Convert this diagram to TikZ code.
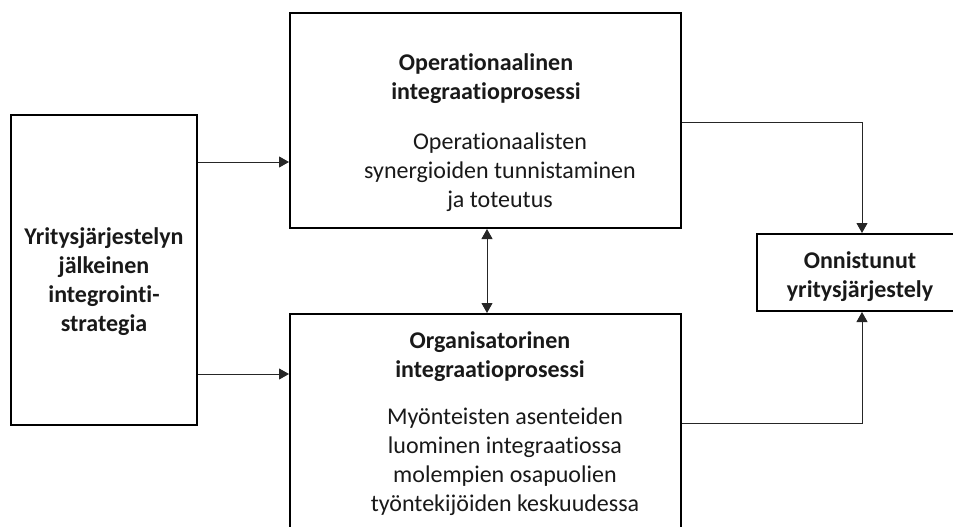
\documentclass[tikz,border=0pt]{standalone}
\usepackage{fontspec}
\setmainfont{Carlito}[Ligatures=NoCommon]
\usetikzlibrary{arrows.meta,positioning}

\tikzset{
  box/.style={draw=black, line width=2pt, rectangle, inner sep=0pt, fill=white},
  txt/.style={align=center, font=\fontsize{24}{29}\selectfont, text=black!90, inner sep=0pt},
  ttl/.style={txt, font=\fontsize{24}{29}\selectfont\bfseries},
  arr/.style={draw=black!85, line width=1pt, -{Triangle[length=10pt,width=11pt]}},
  darr/.style={draw=black!85, line width=1pt, {Triangle[length=10pt,width=11pt]}-{Triangle[length=10pt,width=11pt]}}
}

\begin{document}
\begin{tikzpicture}[x=1pt, y=-1pt]
  \useasboundingbox (0,0) rectangle (953,527);

  % boxes
  \node[box, minimum width=186pt, minimum height=310pt] (strat) at (104,270) {};
  \node[box, minimum width=391pt, minimum height=215pt] (oper) at (485.5,120.5) {};
  \node[box, minimum width=391pt, minimum height=246pt] (org) at (485.5,437) {};
  \node[box, minimum width=210pt, minimum height=77pt] (res) at (862,272.5) {};

  % texts
  \node[ttl] (tstrat) at (104,282) {Yritysjärjestelyn\\jälkeinen\\integrointi-\\strategia};
  \node[ttl] (toper) at (486,79) {Operationaalinen\\integraatioprosessi};
  \node[txt] (boper) at (500,172) {Operationaalisten\\synergioiden tunnistaminen\\ja toteutus};
  \node[ttl] (torg) at (490,357) {Organisatorinen\\integraatioprosessi};
  \node[txt] (borg) at (505,462) {Myönteisten asenteiden\\luominen integraatiossa\\molempien osapuolien\\työntekijöiden keskuudessa};
  \node[ttl] (tres) at (860,277) {Onnistunut\\yritysjärjestely};

  % connector levels
  \coordinate (l1) at (0,162);
  \coordinate (l2) at (0,374);
  \coordinate (r1) at (0,122);
  \coordinate (r2) at (0,423);
  \coordinate (vx) at (487,0);

  % connectors
  \draw[arr] (strat.east |- l1) -- (oper.west |- l1);
  \draw[arr] (strat.east |- l2) -- (org.west |- l2);
  \draw[darr] (oper.south -| vx) -- (org.north -| vx);
  \draw[arr] (oper.east |- r1) -| (res.north);
  \draw[arr] (org.east |- r2) -| (res.south);
\end{tikzpicture}
\end{document}
